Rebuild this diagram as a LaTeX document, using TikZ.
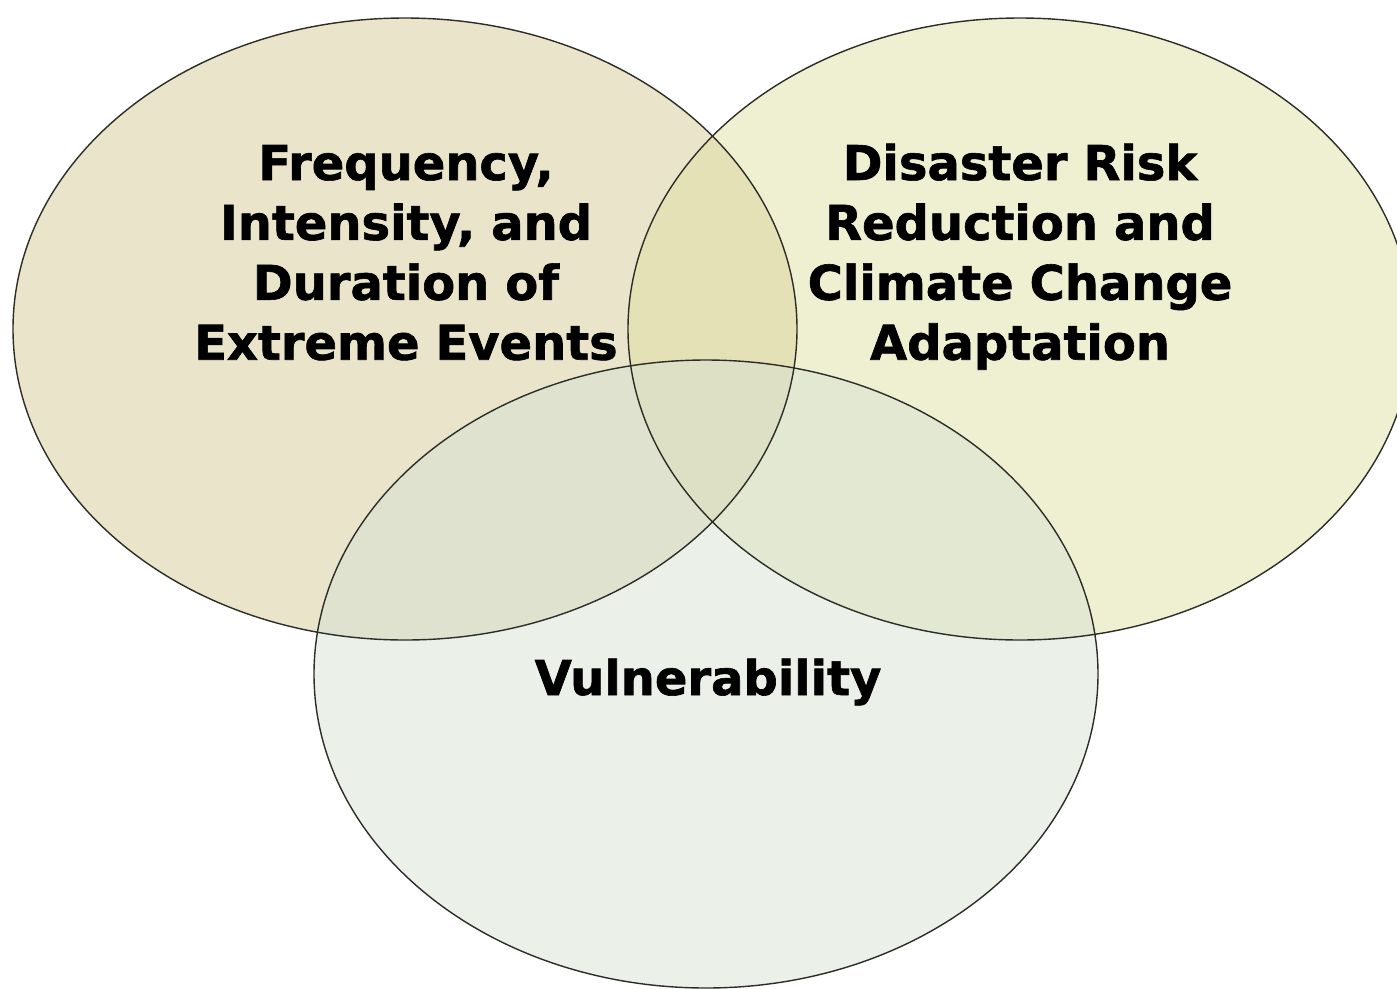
\documentclass[tikz,border=0pt]{standalone}
\usepackage{fontspec}
\setmainfont{DejaVu Sans}[BoldFeatures={FakeBold=1.3}]
\usepackage{tikz}

\definecolor{hazardfill}{RGB}{211,201,149}
\definecolor{adaptfill}{RGB}{223,223,165}
\definecolor{vulnfill}{RGB}{215,225,211}
\definecolor{rimcol}{RGB}{45,45,40}

\tikzset{
  blob/.style={fill opacity=0.5},
  rim/.style={draw=rimcol,line width=0.8pt},
  label/.style={font=\fontsize{27.3}{34.1}\selectfont\bfseries,text width=11cm,
    align=center,inner sep=0pt,anchor=base}
}

\begin{document}
\begin{tikzpicture}[x=0.02cm,y=-0.02cm]
  \useasboundingbox (0,0) rectangle (1397,988);
  \clip (0,0) rectangle (1397,988);

  % fills first, rims on top
  \fill[blob,hazardfill] (405,329) ellipse [x radius=392, y radius=311];
  \fill[blob,adaptfill] (1020,329) ellipse [x radius=392, y radius=311];
  \fill[blob,vulnfill] (706,674) ellipse [x radius=392, y radius=314];

  \draw[rim] (405,329) ellipse [x radius=392, y radius=311];
  \draw[rim] (1020,329) ellipse [x radius=392, y radius=311];
  \draw[rim] (706,674) ellipse [x radius=392, y radius=314];

  \node[label] (hazard) at (406,180)
    {Frequency,\\Intensity, and\\Duration of\\Extreme Events};
  \node[label] (adapt) at (1020,180)
    {Disaster Risk\\Reduction and\\Climate Change\\Adaptation};
  \node[label] (vuln) at (708,695) {Vulnerability};
\end{tikzpicture}
\end{document}
